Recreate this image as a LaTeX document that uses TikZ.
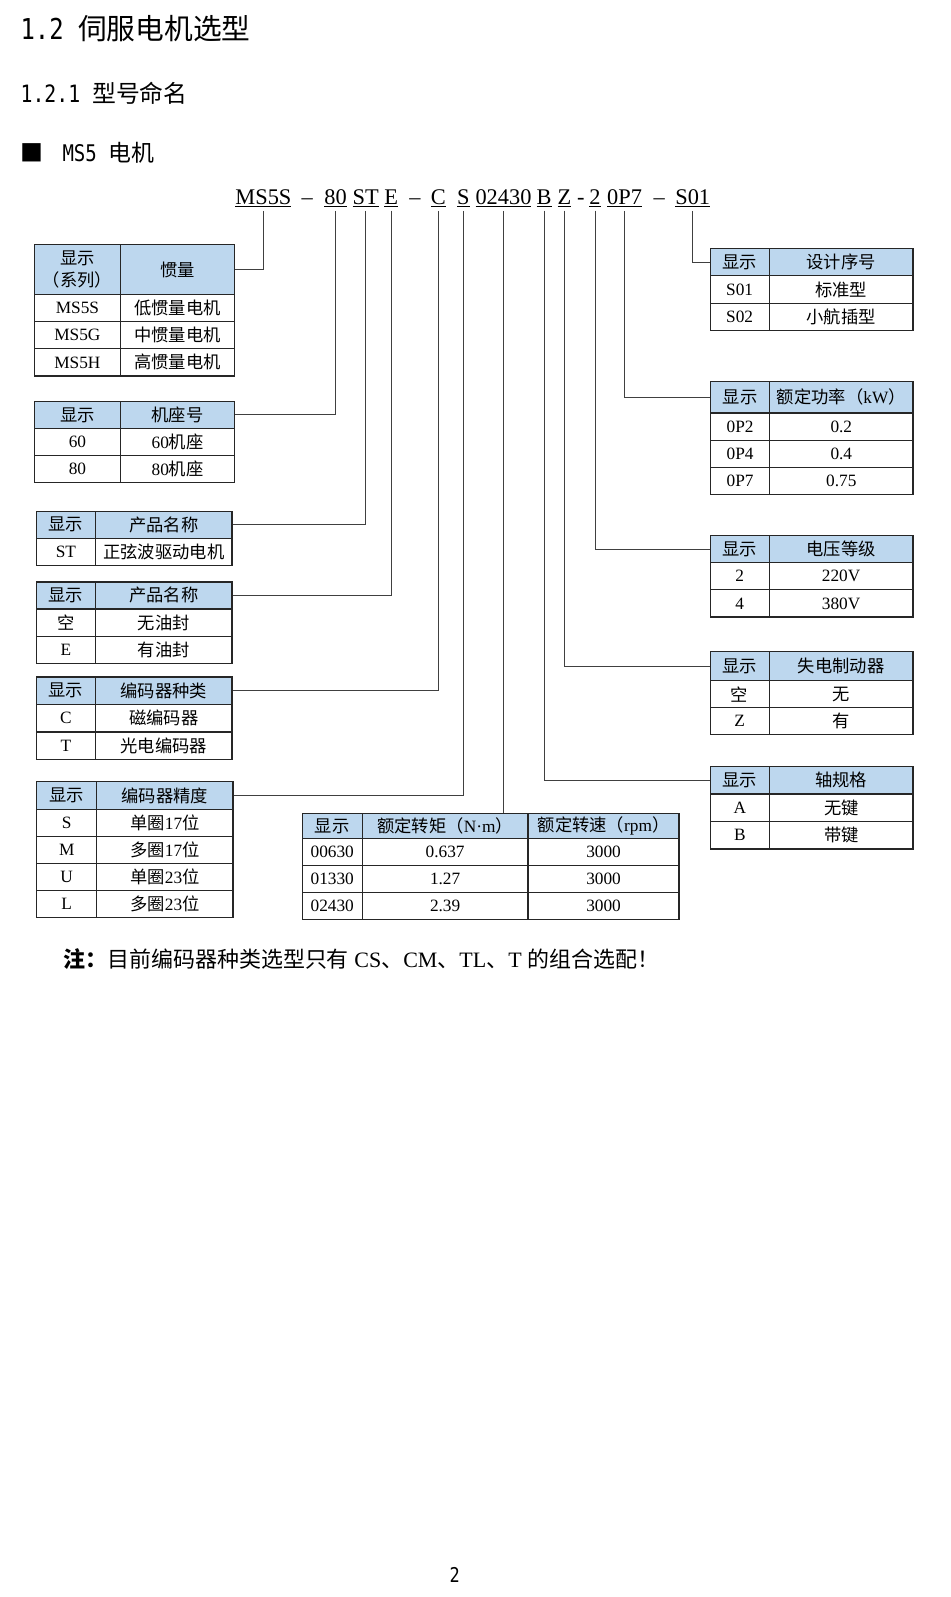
\documentclass[tikz,border=0pt]{standalone}
\usepackage{fontspec}
\setmainfont{Liberation Serif}
\newfontfamily\cjk{Noto Sans CJK SC}
\newfontfamily\hwfont{DejaVu Sans Mono}[FakeStretch=0.83]
\definecolor{headblue}{HTML}{BDD7EE}
\tikzset{
  cell/.style={draw=black!85, line width=0.9pt, inner sep=0pt, anchor=north west,
    font=\fontsize{12.75}{16.5}\selectfont},
  headcell/.style={cell, fill=headblue},
  wd/.style={minimum width=#1*0.75pt},
  ht/.style={minimum height=#1*0.75pt},
  seg/.style={inner sep=0pt, outer sep=2.5pt, anchor=base, font=\fontsize{16.5}{18}\selectfont},
  link/.style={draw=black!75, line width=0.8pt},
}
\begin{document}
\begin{tikzpicture}[x=0.75pt, y=-0.75pt]
	\path[fill=white, use as bounding box] (0,0) rectangle (934,1570);

	% headings
	\node[anchor=west, inner sep=0pt, font=\fontsize{21.2}{24}\selectfont] (secTitle) at (20,28) {{\hwfont 1.2 }{\cjk 伺服电机选型}};
	\node[anchor=west, inner sep=0pt, font=\fontsize{17.6}{20}\selectfont] (subTitle) at (20,92) {{\hwfont 1.2.1 }{\cjk 型号命名}};
	\node[anchor=west, inner sep=0pt, font=\fontsize{16.9}{20}\selectfont] (motorTitle) at (20,150) {{\cjk ■}\hspace{14pt}{\hwfont MS5 }{\cjk 电机}};

	% model code
	\node[seg] (segMS) at (259,201) {\underline{MS5S}};
	\node[seg] (segDa) at (302,201) {–};
	\node[seg] (seg80) at (330,201) {\underline{80}};
	\node[seg] (segST) at (359.5,201) {\underline{ST}};
	\node[seg] (segE)  at (384.5,201) {\underline{E}};
	\node[seg] (segDb) at (408,201) {–};
	\node[seg] (segC)  at (431,201) {\underline{C}};
	\node[seg] (segS)  at (455.5,201) {\underline{S}};
	\node[seg] (segTq) at (495,201) {\underline{02430}};
	\node[seg] (segB)  at (535,201) {\underline{B}};
	\node[seg] (segZ)  at (555,201) {\underline{Z}};
	\node[seg] (segDc) at (571,201) {-};
	\node[seg] (segV)  at (585,201) {\underline{2}};
	\node[seg] (segP)  at (614,201) {\underline{0P7}};
	\node[seg] (segDd) at (648,201) {–};
	\node[seg] (segSN) at (681,201) {\underline{S01}};

	% inertia
	\node[headcell, wd=85, ht=49, align=center] (inertiaH1) at (33,240) {{\cjk 显示}\\{\cjk （系列）}};
	\node[headcell, wd=112, ht=49] (inertiaH2) at (118,240) {\cjk 惯量};
	\node[cell, wd=85, ht=26.67] (inertiaA1) at (33,289) {MS5S};
	\node[cell, wd=112, ht=26.67] (inertiaA2) at (118,289) {\cjk 低惯量电机};
	\node[cell, wd=85, ht=26.67] (inertiaB1) at (33,315.67) {MS5G};
	\node[cell, wd=112, ht=26.67] (inertiaB2) at (118,315.67) {\cjk 中惯量电机};
	\node[cell, wd=85, ht=26.67] (inertiaC1) at (33,342.33) {MS5H};
	\node[cell, wd=112, ht=26.67] (inertiaC2) at (118,342.33) {\cjk 高惯量电机};

	% frame size
	\node[headcell, wd=85, ht=26.5] (frameH1) at (33,394) {\cjk 显示};
	\node[headcell, wd=112, ht=26.5] (frameH2) at (118,394) {\cjk 机座号};
	\node[cell, wd=85, ht=26.5] (frameA1) at (33,420.5) {60};
	\node[cell, wd=112, ht=26.5] (frameA2) at (118,420.5) {60{\cjk 机座}};
	\node[cell, wd=85, ht=26.5] (frameB1) at (33,447) {80};
	\node[cell, wd=112, ht=26.5] (frameB2) at (118,447) {80{\cjk 机座}};

	% product type
	\node[headcell, wd=58.5, ht=26.5] (typeH1) at (35,502) {\cjk 显示};
	\node[headcell, wd=134, ht=26.5] (typeH2) at (93.5,502) {\cjk 产品名称};
	\node[cell, wd=58.5, ht=26.5] (typeA1) at (35,528.5) {ST};
	\node[cell, wd=134, ht=26.5] (typeA2) at (93.5,528.5) {\cjk 正弦波驱动电机};

	% oil seal
	\node[headcell, wd=58.5, ht=26.5] (sealH1) at (35,571.5) {\cjk 显示};
	\node[headcell, wd=134, ht=26.5] (sealH2) at (93.5,571.5) {\cjk 产品名称};
	\node[cell, wd=58.5, ht=27] (sealA1) at (35,598) {\cjk 空};
	\node[cell, wd=134, ht=27] (sealA2) at (93.5,598) {\cjk 无油封};
	\node[cell, wd=58.5, ht=27] (sealB1) at (35,625) {E};
	\node[cell, wd=134, ht=27] (sealB2) at (93.5,625) {\cjk 有油封};

	% encoder type
	\node[headcell, wd=58.5, ht=27] (encH1) at (35,665) {\cjk 显示};
	\node[headcell, wd=134, ht=27] (encH2) at (93.5,665) {\cjk 编码器种类};
	\node[cell, wd=58.5, ht=27] (encA1) at (35,692) {C};
	\node[cell, wd=134, ht=27] (encA2) at (93.5,692) {\cjk 磁编码器};
	\node[cell, wd=58.5, ht=27] (encB1) at (35,719) {T};
	\node[cell, wd=134, ht=27] (encB2) at (93.5,719) {\cjk 光电编码器};

	% encoder resolution
	\node[headcell, wd=59, ht=27] (resH1) at (35.5,768) {\cjk 显示};
	\node[headcell, wd=134, ht=27] (resH2) at (94.5,768) {\cjk 编码器精度};
	\node[cell, wd=59, ht=26.5] (resA1) at (35.5,795) {S};
	\node[cell, wd=134, ht=26.5] (resA2) at (94.5,795) {{\cjk 单圈}17{\cjk 位}};
	\node[cell, wd=59, ht=26.5] (resB1) at (35.5,821.5) {M};
	\node[cell, wd=134, ht=26.5] (resB2) at (94.5,821.5) {{\cjk 多圈}17{\cjk 位}};
	\node[cell, wd=59, ht=26.5] (resC1) at (35.5,848) {U};
	\node[cell, wd=134, ht=26.5] (resC2) at (94.5,848) {{\cjk 单圈}23{\cjk 位}};
	\node[cell, wd=59, ht=26.5] (resD1) at (35.5,874.5) {L};
	\node[cell, wd=134, ht=26.5] (resD2) at (94.5,874.5) {{\cjk 多圈}23{\cjk 位}};

	% torque
	\node[headcell, wd=59, ht=24] (torqueH1) at (296.5,799.5) {\cjk 显示};
	\node[headcell, wd=163, ht=24] (torqueH2) at (355.5,799.5) {{\cjk 额定转矩（}N·m{\cjk ）}};
	\node[headcell, wd=148.5, ht=24] (torqueH3) at (518.5,799.5) {{\cjk 额定转速（}rpm{\cjk ）}};
	\node[cell, wd=59, ht=26.5] (torqueA1) at (296.5,823.5) {00630};
	\node[cell, wd=163, ht=26.5] (torqueA2) at (355.5,823.5) {0.637};
	\node[cell, wd=148.5, ht=26.5] (torqueA3) at (518.5,823.5) {3000};
	\node[cell, wd=59, ht=26.5] (torqueB1) at (296.5,850) {01330};
	\node[cell, wd=163, ht=26.5] (torqueB2) at (355.5,850) {1.27};
	\node[cell, wd=148.5, ht=26.5] (torqueB3) at (518.5,850) {3000};
	\node[cell, wd=59, ht=26.5] (torqueC1) at (296.5,876.5) {02430};
	\node[cell, wd=163, ht=26.5] (torqueC2) at (355.5,876.5) {2.39};
	\node[cell, wd=148.5, ht=26.5] (torqueC3) at (518.5,876.5) {3000};

	% design number
	\node[headcell, wd=58, ht=26.5] (designH1) at (697.5,244) {\cjk 显示};
	\node[headcell, wd=141.5, ht=26.5] (designH2) at (755.5,244) {\cjk 设计序号};
	\node[cell, wd=58, ht=27] (designA1) at (697.5,270.5) {S01};
	\node[cell, wd=141.5, ht=27] (designA2) at (755.5,270.5) {\cjk 标准型};
	\node[cell, wd=58, ht=27] (designB1) at (697.5,297.5) {S02};
	\node[cell, wd=141.5, ht=27] (designB2) at (755.5,297.5) {\cjk 小航插型};

	% rated power
	\node[headcell, wd=58, ht=31] (powerH1) at (698,374.5) {\cjk 显示};
	\node[headcell, wd=141, ht=31] (powerH2) at (756,374.5) {{\cjk 额定功率（}kW{\cjk ）}};
	\node[cell, wd=58, ht=26.75] (powerA1) at (698,405.5) {0P2};
	\node[cell, wd=141, ht=26.75] (powerA2) at (756,405.5) {0.2};
	\node[cell, wd=58, ht=26.75] (powerB1) at (698,432.25) {0P4};
	\node[cell, wd=141, ht=26.75] (powerB2) at (756,432.25) {0.4};
	\node[cell, wd=58, ht=26.75] (powerC1) at (698,459) {0P7};
	\node[cell, wd=141, ht=26.75] (powerC2) at (756,459) {0.75};

	% voltage
	\node[headcell, wd=58, ht=26.5] (voltH1) at (697.5,526) {\cjk 显示};
	\node[headcell, wd=141.5, ht=26.5] (voltH2) at (755.5,526) {\cjk 电压等级};
	\node[cell, wd=58, ht=26.75] (voltA1) at (697.5,552.5) {2};
	\node[cell, wd=141.5, ht=26.75] (voltA2) at (755.5,552.5) {220V};
	\node[cell, wd=58, ht=26.75] (voltB1) at (697.5,579.25) {4};
	\node[cell, wd=141.5, ht=26.75] (voltB2) at (755.5,579.25) {380V};

	% brake
	\node[headcell, wd=58, ht=28.5] (brakeH1) at (697.5,640) {\cjk 显示};
	\node[headcell, wd=141.5, ht=28.5] (brakeH2) at (755.5,640) {\cjk 失电制动器};
	\node[cell, wd=58, ht=26.5] (brakeA1) at (697.5,668.5) {\cjk 空};
	\node[cell, wd=141.5, ht=26.5] (brakeA2) at (755.5,668.5) {\cjk 无};
	\node[cell, wd=58, ht=26.5] (brakeB1) at (697.5,695) {Z};
	\node[cell, wd=141.5, ht=26.5] (brakeB2) at (755.5,695) {\cjk 有};

	% shaft
	\node[headcell, wd=58.5, ht=27] (shaftH1) at (697.5,753) {\cjk 显示};
	\node[headcell, wd=141, ht=27] (shaftH2) at (756,753) {\cjk 轴规格};
	\node[cell, wd=58.5, ht=27] (shaftA1) at (697.5,780) {A};
	\node[cell, wd=141, ht=27] (shaftA2) at (756,780) {\cjk 无键};
	\node[cell, wd=58.5, ht=27] (shaftB1) at (697.5,807) {B};
	\node[cell, wd=141, ht=27] (shaftB2) at (756,807) {\cjk 带键};

	% code to tables
	\draw[link] (segMS.south) |- (inertiaH2.east);
	\draw[link] (seg80.south) |- (frameH2.east);
	\draw[link] (segST.south) |- (typeH2.east);
	\draw[link] (segE.south) |- (sealH2.east);
	\draw[link] (segC.south) |- (encH2.east);
	\draw[link] (segS.south) |- (resH2.east);
	\draw[link] (segTq.south) -- (segTq.south |- torqueH2.north);
	\draw[link] (segB.south) |- (shaftH1.west);
	\draw[link] (segZ.south) |- (brakeH1.west);
	\draw[link] (segV.south) |- (voltH1.west);
	\draw[link] (segP.south) |- (powerH1.west);
	\draw[link] (segSN.south) |- (designH1.west);

	% note and page number
	\node[anchor=west, inner sep=0pt, font=\fontsize{16.2}{18}\selectfont] (note) at (62,943) {{\cjk\bfseries 注：}{\cjk 目前编码器种类选型只有} CS{\cjk 、}CM{\cjk 、}TL{\cjk 、}T {\cjk 的组合选配！}};
	\node[inner sep=0pt, font=\fontsize{15}{18}\selectfont] (pageNo) at (447,1548) {{\hwfont 2}};
\end{tikzpicture}
\end{document}
